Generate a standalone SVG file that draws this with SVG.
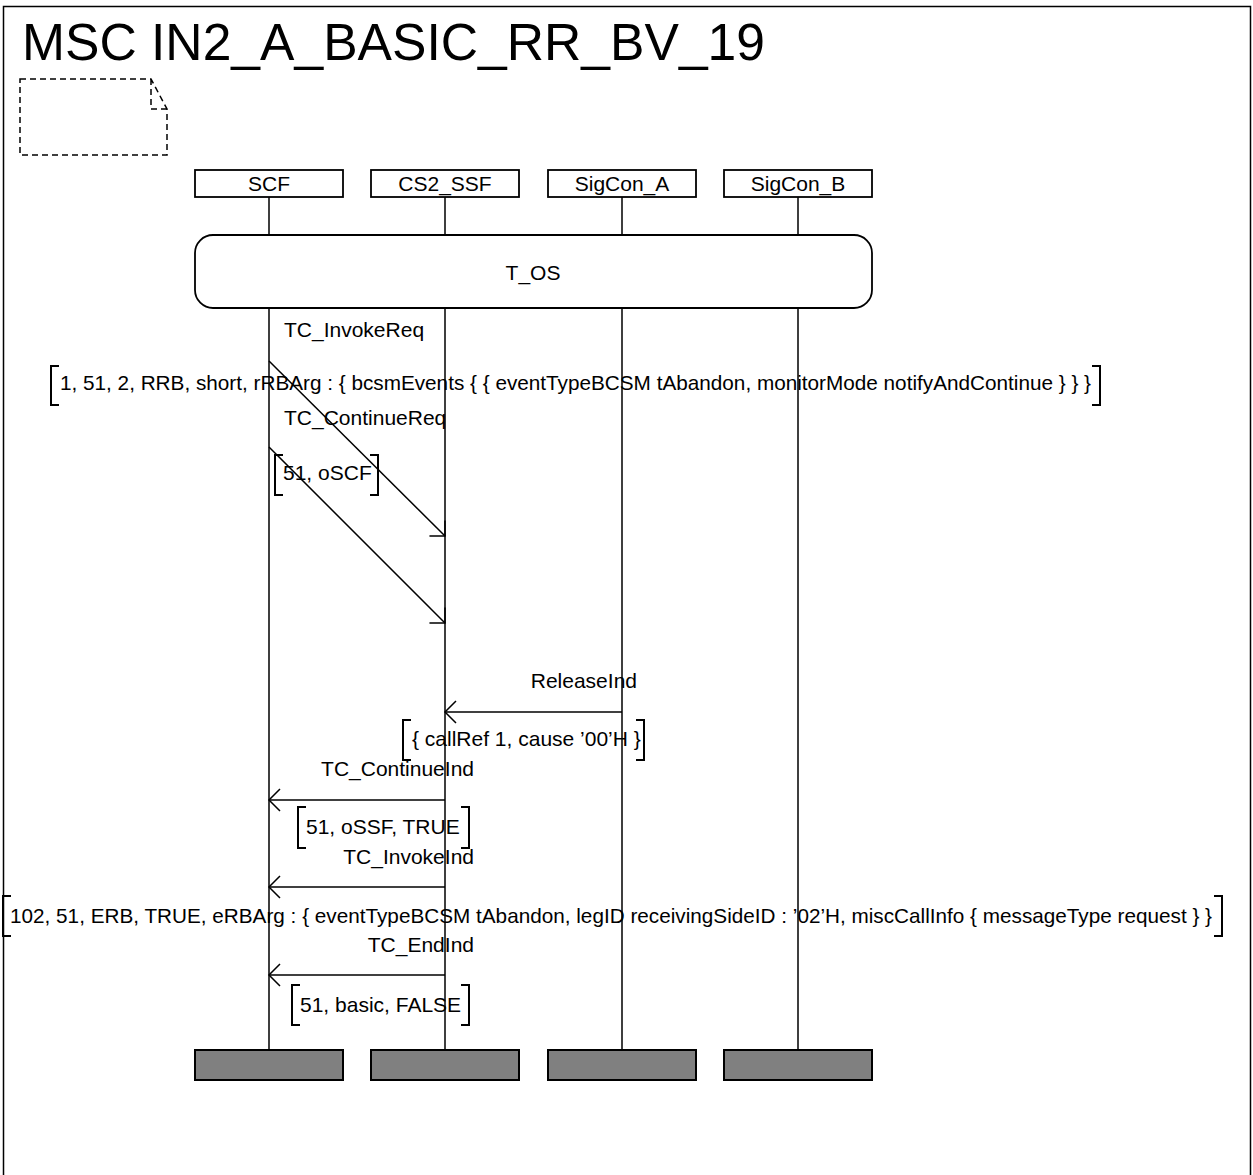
<svg xmlns="http://www.w3.org/2000/svg" width="1253" height="1175" viewBox="0 0 1253 1175">
<style>
text{font-family:"Liberation Sans",Arial,sans-serif;font-size:21px;fill:#000}
.title{font-size:52px}
.ln{stroke:#000;stroke-width:1.5;fill:none}
.box{stroke:#000;stroke-width:1.8;fill:#fff}
.end{stroke:#000;stroke-width:2;fill:#808080}
.br{stroke:#000;stroke-width:2;fill:none}
.note{stroke:#000;stroke-width:1.5;fill:none;stroke-dasharray:6 4}
.c{text-anchor:middle}
</style>
<defs>
<marker id="arr" markerUnits="userSpaceOnUse" orient="auto" viewBox="-13 -13 15 26" markerWidth="15" markerHeight="26" refX="0" refY="0" overflow="visible">
<path d="M-11,-11 L0,0 L-11,11" fill="none" stroke="#000" stroke-width="1.5"/>
</marker>
</defs>
<rect width="1253" height="1175" fill="#fff"/>
<g id="frame">
<path class="ln" d="M3.5,1175 V6.5 H1250.5 V1175" stroke-width="2"/>
<text class="title" x="22" y="60" textLength="743" lengthAdjust="spacingAndGlyphs">MSC IN2_A_BASIC_RR_BV_19</text>
</g>
<g id="note">
<path class="note" d="M20,79 H151 L167,109 V155 H20 Z M151,79 V109 H167"/>
</g>
<g id="SCF">
<rect class="box" x="195" y="170" width="148" height="27"/>
<text class="c" x="269" y="191">SCF</text>
<path class="ln" d="M269,197 V235 M269,308 V1050"/>
<rect class="end" x="195" y="1050" width="148" height="30"/>
</g>
<g id="CS2_SSF">
<rect class="box" x="371" y="170" width="148" height="27"/>
<text class="c" x="445" y="191">CS2_SSF</text>
<path class="ln" d="M445,197 V235 M445,308 V1050"/>
<rect class="end" x="371" y="1050" width="148" height="30"/>
</g>
<g id="SigCon_A">
<rect class="box" x="548" y="170" width="148" height="27"/>
<text class="c" x="622" y="191">SigCon_A</text>
<path class="ln" d="M622,197 V235 M622,308 V1050"/>
<rect class="end" x="548" y="1050" width="148" height="30"/>
</g>
<g id="SigCon_B">
<rect class="box" x="724" y="170" width="148" height="27"/>
<text class="c" x="798" y="191">SigCon_B</text>
<path class="ln" d="M798,197 V235 M798,308 V1050"/>
<rect class="end" x="724" y="1050" width="148" height="30"/>
</g>
<g id="T_OS">
<rect class="box" x="195" y="235" width="677" height="73" rx="18" ry="18"/>
<text class="c" x="533" y="280">T_OS</text>
</g>
<g id="connectors">
<line class="ln" x1="269" y1="361" x2="445" y2="536" marker-end="url(#arr)"/>
<line class="ln" x1="269" y1="447" x2="445" y2="623" marker-end="url(#arr)"/>
<line class="ln" x1="622" y1="712" x2="445" y2="712" marker-end="url(#arr)"/>
<line class="ln" x1="445" y1="800" x2="269" y2="800" marker-end="url(#arr)"/>
<line class="ln" x1="445" y1="887" x2="269" y2="887" marker-end="url(#arr)"/>
<line class="ln" x1="445" y1="975" x2="269" y2="975" marker-end="url(#arr)"/>
</g>
<g id="labels">
<text x="284" y="337">TC_InvokeReq</text>
<path class="br" d="M59,366 H51 V405 H59 M1092,366 H1100 V405 H1092"/>
<text x="60" y="390" textLength="1031" lengthAdjust="spacingAndGlyphs">1, 51, 2, RRB, short, rRBArg : { bcsmEvents { { eventTypeBCSM tAbandon, monitorMode notifyAndContinue } } }</text>
<text x="284" y="425">TC_ContinueReq</text>
<path class="br" d="M283,455 H275 V495 H283 M370,455 H378 V495 H370"/>
<text x="283" y="480">51, oSCF</text>
<text x="637" y="688" text-anchor="end">ReleaseInd</text>
<path class="br" d="M411,720 H403 V760 H411 M636,720 H644 V760 H636"/>
<text x="412" y="746">{ callRef 1, cause ’00’H }</text>
<text x="474" y="776" text-anchor="end">TC_ContinueInd</text>
<path class="br" d="M306,807 H298 V848 H306 M461,807 H469 V848 H461"/>
<text x="306" y="834">51, oSSF, TRUE</text>
<text x="474" y="864" text-anchor="end">TC_InvokeInd</text>
<path class="br" d="M11,896 H3 V936 H11 M1214,896 H1222 V936 H1214"/>
<text x="10" y="923" textLength="1202" lengthAdjust="spacingAndGlyphs">102, 51, ERB, TRUE, eRBArg : { eventTypeBCSM tAbandon, legID receivingSideID : ’02’H, miscCallInfo { messageType request } }</text>
<text x="474" y="952" text-anchor="end">TC_EndInd</text>
<path class="br" d="M300,985 H292 V1025 H300 M461,985 H469 V1025 H461"/>
<text x="300" y="1012">51, basic, FALSE</text>
</g>
</svg>
